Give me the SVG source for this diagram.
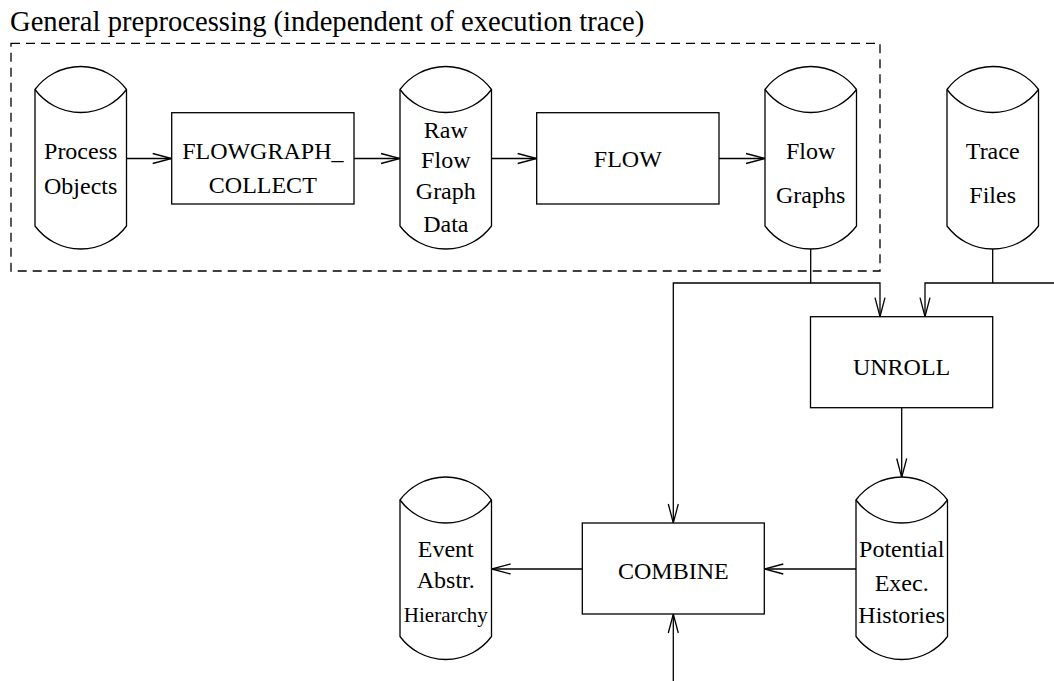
<svg xmlns="http://www.w3.org/2000/svg" width="1054" height="681" viewBox="0 0 1054 681">
  <style>
    .shape { fill: #ffffff; stroke: #000000; stroke-width: 1.3; }
    .line { fill: none; stroke: #000000; stroke-width: 1.3; }
    .frame { fill: none; stroke: #000000; stroke-width: 1.3; stroke-dasharray: 9 6; }
    text { font-family: "Liberation Serif", "Times New Roman", serif; font-size: 24px; fill: #000000; text-anchor: middle; }
    .title { font-size: 28.6px; text-anchor: start; }
    .small { font-size: 21px; }
  </style>
  <defs>
    <marker id="open-arrow" markerUnits="userSpaceOnUse" markerWidth="21" markerHeight="12" refX="19" refY="5" orient="auto" overflow="visible">
      <path d="M0,0 L19,5 L0,10" fill="none" stroke="#000000" stroke-width="1.3"/>
    </marker>
  </defs>
  <rect width="1054" height="681" fill="#ffffff"/>

  <!-- preprocessing frame -->
  <g id="preprocessing">
    <text class="title" x="10" y="30.7">General preprocessing (independent of execution trace)</text>
    <rect class="frame" x="11" y="43.3" width="869" height="227.7"/>
  </g>

  <!-- connectors -->
  <g id="connectors">
    <path class="line" d="M126.5,158.5 H171.7" marker-end="url(#open-arrow)"/>
    <path class="line" d="M354,158.5 H400" marker-end="url(#open-arrow)"/>
    <path class="line" d="M491.5,158.5 H536.7" marker-end="url(#open-arrow)"/>
    <path class="line" d="M719,158.5 H765" marker-end="url(#open-arrow)"/>
    <path class="line" d="M810.7,249 V283 H880 V316.7" marker-end="url(#open-arrow)"/>
    <path class="line" d="M810.7,283 H673.3 V523" marker-end="url(#open-arrow)"/>
    <path class="line" d="M992.7,249 V283 H925 V316.7" marker-end="url(#open-arrow)"/>
    <path class="line" d="M992.7,283 H1054"/>
    <path class="line" d="M901.7,407.7 V477.5" marker-end="url(#open-arrow)"/>
    <path class="line" d="M856,569 H764.3" marker-end="url(#open-arrow)"/>
    <path class="line" d="M582.3,569 H491.5" marker-end="url(#open-arrow)"/>
    <path class="line" d="M673.3,681 V614" marker-end="url(#open-arrow)"/>
  </g>

  <!-- data stores -->
  <g id="process-objects">
    <path class="shape" d="M35,89.5 A57,57 0 0 1 126.5,89.5 V226 A57,57 0 0 1 35,226 Z"/>
    <path class="line" d="M35,89.5 A57,57 0 0 0 126.5,89.5"/>
    <text x="80.7" y="159.3">Process</text>
    <text x="80.7" y="194.3">Objects</text>
  </g>

  <g id="raw-flow-graph-data">
    <path class="shape" d="M400,89.5 A57,57 0 0 1 491.5,89.5 V226 A57,57 0 0 1 400,226 Z"/>
    <path class="line" d="M400,89.5 A57,57 0 0 0 491.5,89.5"/>
    <text x="445.8" y="138.3">Raw</text>
    <text x="445.8" y="168.3">Flow</text>
    <text x="445.8" y="199.3">Graph</text>
    <text x="445.8" y="232.3">Data</text>
  </g>

  <g id="flow-graphs">
    <path class="shape" d="M765,89.5 A57,57 0 0 1 856.5,89.5 V226 A57,57 0 0 1 765,226 Z"/>
    <path class="line" d="M765,89.5 A57,57 0 0 0 856.5,89.5"/>
    <text x="810.7" y="159.3">Flow</text>
    <text x="810.7" y="203.3">Graphs</text>
  </g>

  <g id="trace-files">
    <path class="shape" d="M947,89.5 A57,57 0 0 1 1038.5,89.5 V226 A57,57 0 0 1 947,226 Z"/>
    <path class="line" d="M947,89.5 A57,57 0 0 0 1038.5,89.5"/>
    <text x="992.7" y="159.3">Trace</text>
    <text x="992.7" y="203.3">Files</text>
  </g>

  <g id="event-abstraction-hierarchy">
    <path class="shape" d="M400,500 A57,57 0 0 1 491.5,500 V636.5 A57,57 0 0 1 400,636.5 Z"/>
    <path class="line" d="M400,500 A57,57 0 0 0 491.5,500"/>
    <text x="445.8" y="556.7">Event</text>
    <text x="445.8" y="588.3">Abstr.</text>
    <text class="small" x="445.8" y="621.7">Hierarchy</text>
  </g>

  <g id="potential-exec-histories">
    <path class="shape" d="M856,500 A57,57 0 0 1 947.5,500 V636.5 A57,57 0 0 1 856,636.5 Z"/>
    <path class="line" d="M856,500 A57,57 0 0 0 947.5,500"/>
    <text x="901.7" y="557.3">Potential</text>
    <text x="901.7" y="590.7">Exec.</text>
    <text x="901.7" y="623.3">Histories</text>
  </g>

  <!-- processes -->
  <g id="flowgraph-collect">
    <rect class="shape" x="171.7" y="112.7" width="182.3" height="91.3"/>
    <text x="262.8" y="159.3">FLOWGRAPH_</text>
    <text x="262.8" y="192.7">COLLECT</text>
  </g>

  <g id="flow">
    <rect class="shape" x="536.7" y="112.7" width="182.3" height="91.3"/>
    <text x="627.8" y="166.7">FLOW</text>
  </g>

  <g id="unroll">
    <rect class="shape" x="810.5" y="316.7" width="182.2" height="91"/>
    <text x="901.6" y="375">UNROLL</text>
  </g>

  <g id="combine">
    <rect class="shape" x="582.3" y="523" width="182" height="91"/>
    <text x="673.3" y="579">COMBINE</text>
  </g>
</svg>
